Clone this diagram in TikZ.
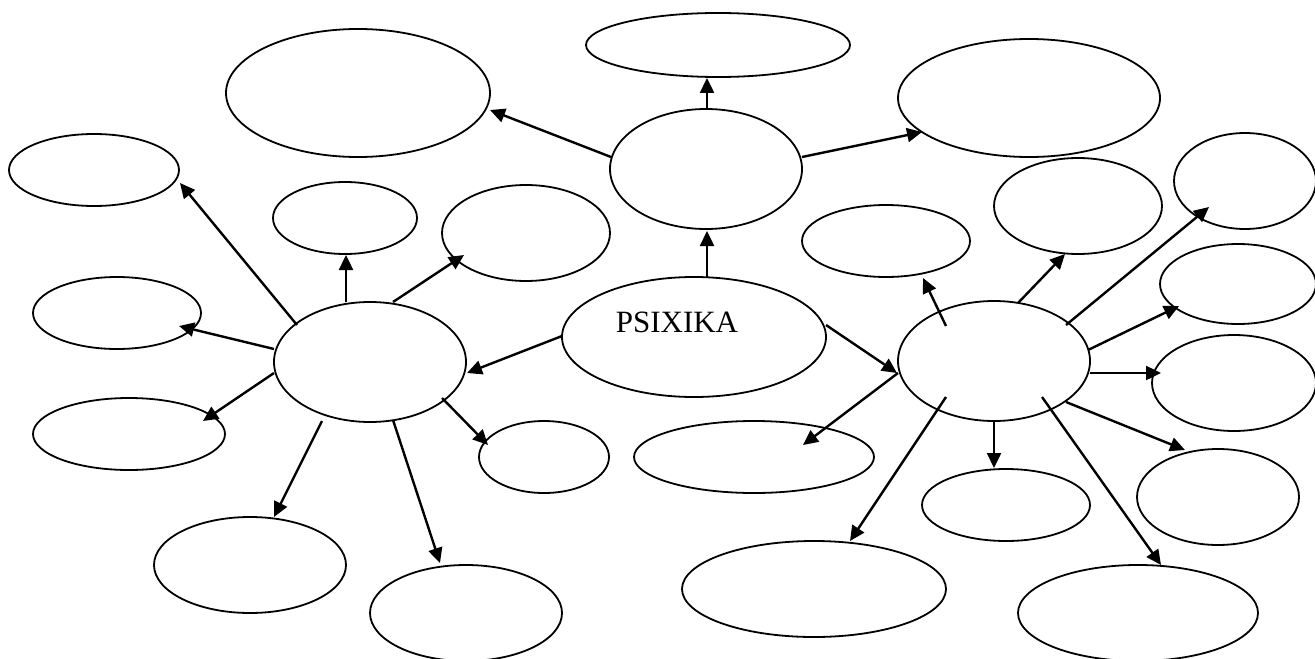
\documentclass[tikz,border=0pt]{standalone}
\usepackage{fontspec}
\setmainfont{Liberation Serif}
\usetikzlibrary{shapes.geometric,arrows.meta,calc}
\tikzset{
  bub/.style={draw, ellipse, inner sep=0pt, line width=0.9pt},
  arr/.style={line width=1.2pt, -{Triangle[length=7.5pt,width=7pt]}}
}
\begin{document}
\begin{tikzpicture}[x={(0.5pt,0)}, y={(0,-0.5pt)}]
\useasboundingbox (0,0) rectangle (1315,658);
% ellipses (minimum width/height in pt = 2*r px * 0.5)
\node[bub, minimum width=132pt, minimum height=64pt] (e1) at (358,93) {};
\node[bub, minimum width=132pt, minimum height=32pt] (e2) at (718,45) {};
\node[bub, minimum width=131pt, minimum height=59pt] (e3) at (1029,98) {};
\node[bub, minimum width=96pt, minimum height=60pt] (e4) at (706,169) {};
\node[bub, minimum width=85pt, minimum height=36pt] (e5) at (94,170) {};
\node[bub, minimum width=72pt, minimum height=36pt] (e6) at (345,218) {};
\node[bub, minimum width=84pt, minimum height=48pt] (e7) at (526,233) {};
\node[bub, minimum width=84pt, minimum height=36pt] (e8) at (886,241) {};
\node[bub, minimum width=84pt, minimum height=48pt] (e9) at (1078,206) {};
\node[bub, minimum width=71pt, minimum height=48pt] (e10) at (1245,181) {};
\node[bub, minimum width=78pt, minimum height=40pt] (e11) at (1238,284) {};
\node[bub, minimum width=84pt, minimum height=36pt] (e12) at (117,313) {};
\node[bub, minimum width=96pt, minimum height=60pt] (hubL) at (370,362) {};
\node[bub, minimum width=132pt, minimum height=60pt] (psi) at (694,337) {};
\node[font=\fontsize{15.5pt}{18pt}\selectfont, inner sep=0pt] (psit) at (677,322) {PSIXIKA};
\node[bub, minimum width=96pt, minimum height=60pt] (hubR) at (994,361) {};
\node[bub, minimum width=82pt, minimum height=48pt] (e16) at (1234,383) {};
\node[bub, minimum width=96pt, minimum height=36pt] (e17) at (129,434) {};
\node[bub, minimum width=65pt, minimum height=36pt] (e18) at (544,457) {};
\node[bub, minimum width=120pt, minimum height=36pt] (e19) at (754,457) {};
\node[bub, minimum width=81pt, minimum height=48pt] (e20) at (1218,497) {};
\node[bub, minimum width=84pt, minimum height=36pt] (e21) at (1006,505) {};
\node[bub, minimum width=96pt, minimum height=48pt] (e22) at (250,565) {};
\node[bub, minimum width=96pt, minimum height=48pt] (e23) at (466,613) {};
\node[bub, minimum width=132pt, minimum height=48pt] (e24) at (814,589) {};
\node[bub, minimum width=120pt, minimum height=48pt] (e25) at (1138,613) {};
% arrows
\draw[arr] ($(e4)+(1,-60)$) -- ($(e2)+(-11,33)$);
\draw[arr] ($(e4)+(-95,-12)$) -- ($(e1)+(132,17)$);
\draw[arr] ($(e4)+(96,-12)$) -- ($(e3)+(-107,34)$);
\draw[arr] ($(psi)+(13,-60)$) -- ($(e4)+(1,62)$);
\draw[arr] ($(psi)+(-132,-1)$) -- ($(hubL)+(97,11)$);
\draw[arr] ($(psi)+(132,-12)$) -- ($(hubR)+(-97,12)$);
\draw[arr] ($(hubL)+(-73,-37)$) -- ($(e5)+(86,13)$);
\draw[arr] ($(hubL)+(-24,-60)$) -- ($(e6)+(1,37)$);
\draw[arr] ($(hubL)+(23,-60)$) -- ($(e7)+(-62,22)$);
\draw[arr] ($(hubL)+(-96,-13)$) -- ($(e12)+(62,13)$);
\draw[arr] ($(hubL)+(-96,11)$) -- ($(e17)+(74,-13)$);
\draw[arr] ($(hubL)+(-48,59)$) -- ($(e22)+(24,-48)$);
\draw[arr] ($(hubL)+(23,58)$) -- ($(e23)+(-26,-50)$);
\draw[arr] ($(hubL)+(72,36)$) -- ($(e18)+(-56,-12)$);
\draw[arr] ($(hubR)+(-48,-35)$) -- ($(e8)+(37,37)$);
\draw[arr] ($(hubR)+(24,-58)$) -- ($(e9)+(-13,48)$);
\draw[arr] ($(hubR)+(72,-36)$) -- ($(e10)+(-36,26)$);
\draw[arr] ($(hubR)+(94,-11)$) -- ($(e11)+(-59,22)$);
\draw[arr] ($(hubR)+(96,12)$) -- ($(e16)+(-73,-10)$);
\draw[arr] ($(hubR)+(72,41)$) -- ($(e20)+(-33,-47)$);
\draw[arr] ($(hubR)+(0,60)$) -- ($(e21)+(-12,-37)$);
\draw[arr] ($(hubR)+(48,36)$) -- ($(e25)+(23,-48)$);
\draw[arr] ($(hubR)+(-48,36)$) -- ($(e24)+(36,-48)$);
\draw[arr] ($(hubR)+(-96,12)$) -- ($(e19)+(49,-12)$);
\end{tikzpicture}
\end{document}
